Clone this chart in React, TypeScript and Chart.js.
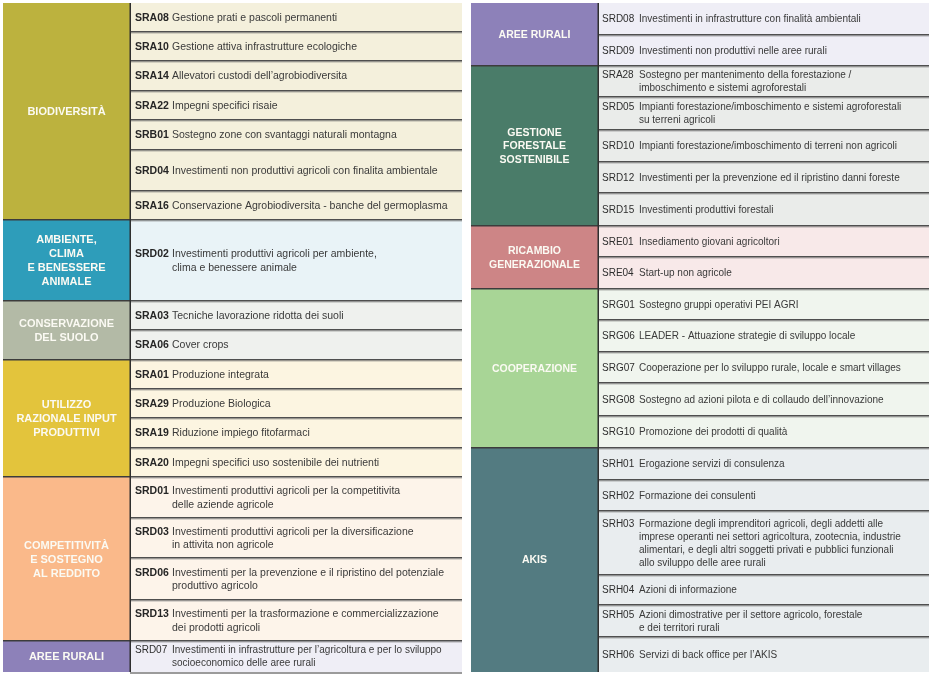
import React, { useEffect, useRef } from "react";
import { Chart, registerables } from "chart.js";

Chart.register(...registerables);

// ---------------- LEFT TABLE DATA ----------------
const leftGroupLabels: string[][] = [
  ["BIODIVERSITÀ"],
  ["AMBIENTE,", "CLIMA", "E BENESSERE", "ANIMALE"],
  ["CONSERVAZIONE", "DEL SUOLO"],
  ["UTILIZZO", "RAZIONALE INPUT", "PRODUTTIVI"],
  ["COMPETITIVITÀ", "E SOSTEGNO", "AL REDDITO"],
  ["AREE RURALI"],
];
const leftGroupSizes = [7, 1, 2, 4, 4, 1];
const leftCodes = [
  "SRA08", "SRA10", "SRA14", "SRA22", "SRB01", "SRD04", "SRA16",
  "SRD02",
  "SRA03", "SRA06",
  "SRA01", "SRA29", "SRA19", "SRA20",
  "SRD01", "SRD03", "SRD06", "SRD13",
  "SRD07",
];
const leftTexts: string[][] = [
  ["Gestione prati e pascoli permanenti"],
  ["Gestione attiva infrastrutture ecologiche"],
  ["Allevatori custodi dell’agrobiodiversita"],
  ["Impegni specifici risaie"],
  ["Sostegno zone con svantaggi naturali montagna"],
  ["Investimenti non produttivi agricoli con finalita ambientale"],
  ["Conservazione Agrobiodiversita - banche del germoplasma"],
  ["Investimenti produttivi agricoli per ambiente,", "clima e benessere animale"],
  ["Tecniche lavorazione ridotta dei suoli"],
  ["Cover crops"],
  ["Produzione integrata"],
  ["Produzione Biologica"],
  ["Riduzione impiego fitofarmaci"],
  ["Impegni specifici uso sostenibile dei nutrienti"],
  ["Investimenti produttivi agricoli per la competitivita", "delle aziende agricole"],
  ["Investimenti produttivi agricoli per la diversificazione", "in attivita non agricole"],
  ["Investimenti per la prevenzione e il ripristino del potenziale", "produttivo agricolo"],
  ["Investimenti per la trasformazione e commercializzazione", "dei prodotti agricoli"],
  ["Investimenti in infrastrutture per l’agricoltura e per lo sviluppo", "socioeconomico delle aree rurali"],
];
// row heights (units of the vertical scale)
const leftRowSpans = [29, 29, 30, 29, 30, 41, 29, 81, 29, 30, 29, 29, 30, 29, 41, 40, 42, 41, 31];
const leftCompactCodes = ["SRD07"];

// ---------------- RIGHT TABLE DATA ----------------
const rightGroupLabels: string[][] = [
  ["AREE RURALI"],
  ["GESTIONE", "FORESTALE", "SOSTENIBILE"],
  ["RICAMBIO", "GENERAZIONALE"],
  ["COOPERAZIONE"],
  ["AKIS"],
];
const rightGroupSizes = [2, 5, 2, 5, 6];
const rightCodes = [
  "SRD08", "SRD09",
  "SRA28", "SRD05", "SRD10", "SRD12", "SRD15",
  "SRE01", "SRE04",
  "SRG01", "SRG06", "SRG07", "SRG08", "SRG10",
  "SRH01", "SRH02", "SRH03", "SRH04", "SRH05", "SRH06",
];
const rightTexts: string[][] = [
  ["Investimenti in infrastrutture con finalità ambientali"],
  ["Investimenti non produttivi nelle aree rurali"],
  ["Sostegno per mantenimento della forestazione /", "imboschimento e sistemi agroforestali"],
  ["Impianti forestazione/imboschimento e sistemi agroforestali", "su terreni agricoli"],
  ["Impianti forestazione/imboschimento di terreni non agricoli"],
  ["Investimenti per la prevenzione ed il ripristino danni foreste"],
  ["Investimenti produttivi forestali"],
  ["Insediamento giovani agricoltori"],
  ["Start-up non agricole"],
  ["Sostegno gruppi operativi PEI AGRI"],
  ["LEADER - Attuazione strategie di sviluppo locale"],
  ["Cooperazione per lo sviluppo rurale, locale e smart villages"],
  ["Sostegno ad azioni pilota e di collaudo dell’innovazione"],
  ["Promozione dei prodotti di qualità"],
  ["Erogazione servizi di consulenza"],
  ["Formazione dei consulenti"],
  [
    "Formazione degli imprenditori agricoli, degli addetti alle",
    "imprese operanti nei settori agricoltura, zootecnia, industrie",
    "alimentari, e degli altri soggetti privati e pubblici funzionali",
    "allo sviluppo delle aree rurali",
  ],
  ["Azioni di informazione"],
  ["Azioni dimostrative per il settore agricolo, forestale", "e dei territori rurali"],
  ["Servizi di back office per l’AKIS"],
];
const rightRowSpans = [32, 31, 31, 33, 32, 31, 33, 31, 32, 31, 32, 31, 33, 32, 32, 31, 64, 30, 32, 35];

// ---------------- STYLES ----------------
const leftGroupColors = ["#bcb23e", "#2e9dba", "#b3baa6", "#e3c43c", "#fab98a", "#8d81b9"];
const leftGroupTints = ["#f4f0dc", "#e9f3f7", "#eff1ee", "#fcf5e1", "#fdf4ea", "#efeef6"];
const rightGroupColors = ["#8d81b9", "#4a7c69", "#cd8586", "#a8d596", "#537b81"];
const rightGroupTints = ["#efeef6", "#eaecea", "#f8e9e9", "#f0f5ee", "#e9edef"];

const FONT = "'Liberation Sans', Arial, Helvetica, sans-serif";

type TableDef = {
  groupLabels: string[][];
  groupSizes: number[];
  codes: string[];
  texts: string[][];
  spans: number[];
  groupColors: string[];
  groupTints: string[];
  compact: string[];
  x0: number; // category column start (scale units)
  x1: number; // item column start
  x2: number; // item column end
  codeX: number;
  catFont: string;
  catLineH: number;
  style: "left" | "right";
  bottomShadow: boolean;
};

const tables: TableDef[] = [
  {
    groupLabels: leftGroupLabels,
    groupSizes: leftGroupSizes,
    codes: leftCodes,
    texts: leftTexts,
    spans: leftRowSpans,
    groupColors: leftGroupColors,
    groupTints: leftGroupTints,
    compact: leftCompactCodes,
    x0: 0,
    x1: 127,
    x2: 459,
    codeX: 132,
    catFont: `bold 11px ${FONT}`,
    catLineH: 14,
    style: "left",
    bottomShadow: true,
  },
  {
    groupLabels: rightGroupLabels,
    groupSizes: rightGroupSizes,
    codes: rightCodes,
    texts: rightTexts,
    spans: rightRowSpans,
    groupColors: rightGroupColors,
    groupTints: rightGroupTints,
    compact: rightCodes,
    x0: 468,
    x1: 595,
    x2: 926,
    codeX: 599,
    catFont: `bold 10.5px ${FONT}`,
    catLineH: 13.5,
    style: "right",
    bottomShadow: false,
  },
];

const tablePlugin = {
  id: "tableCells",
  beforeDatasetsDraw(chart: any) {
    const ctx: CanvasRenderingContext2D = chart.ctx;
    const xs = chart.scales.x;
    const ys = chart.scales.y;
    const px = (v: number) => xs.getPixelForValue(v);
    const py = (v: number) => ys.getPixelForValue(v);

    ctx.save();
    for (const t of tables) {
      const X0 = px(t.x0), X1 = px(t.x1), X2 = px(t.x2);
      // rows
      let rowIdx = 0;
      let yCursor = 0;
      const groupRanges: [number, number][] = [];
      t.groupSizes.forEach((size, g) => {
        const gStart = yCursor;
        for (let k = 0; k < size; k++) {
          const span = t.spans[rowIdx];
          const yA = py(yCursor), yB = py(yCursor + span);
          ctx.fillStyle = t.groupTints[g];
          ctx.fillRect(X1, yA, X2 - X1, yB - yA);
          yCursor += span;
          rowIdx++;
        }
        groupRanges.push([gStart, yCursor]);
        const gA = py(gStart), gB = py(yCursor);
        ctx.fillStyle = t.groupColors[g];
        ctx.fillRect(X0, gA, X1 - X0, gB - gA);
      });

      // row separators
      yCursor = 0;
      for (let i = 0; i < t.spans.length; i++) {
        if (i > 0) {
          const y = Math.round(py(yCursor));
          ctx.fillStyle = "#4f4f4f";
          ctx.fillRect(X1, y - 1, X2 - X1, 1.5);
          ctx.fillStyle = "rgba(120,120,120,0.55)";
          ctx.fillRect(X1, y + 0.5, X2 - X1, 1);
        }
        yCursor += t.spans[i];
      }
      // group separators across category column
      groupRanges.forEach(([a], g) => {
        if (g === 0) return;
        const y = Math.round(py(a));
        ctx.fillStyle = "#3c3c3c";
        ctx.fillRect(X0, y - 1, X1 - X0, 1.5);
      });
      // vertical separator
      ctx.fillStyle = "#2f2f2f";
      ctx.fillRect(X1 - 0.5, py(0), 1.5, py(669) - py(0));
      if (t.bottomShadow) {
        ctx.fillStyle = "#9b9b9b";
        ctx.fillRect(X1, py(669), X2 - X1, 2);
      }

      // category labels
      ctx.textAlign = "center";
      ctx.textBaseline = "middle";
      ctx.font = t.catFont;
      ctx.fillStyle = "#fbfaf3";
      groupRanges.forEach(([a, b], g) => {
        const lines = t.groupLabels[g];
        const cy = (py(a) + py(b)) / 2 + 0.5;
        const cx = (X0 + X1) / 2;
        lines.forEach((ln, i) => {
          ctx.fillText(ln, cx, cy + (i - (lines.length - 1) / 2) * t.catLineH);
        });
      });

      // item texts
      ctx.textAlign = "left";
      yCursor = 0;
      for (let i = 0; i < t.codes.length; i++) {
        const code = t.codes[i];
        const lines = t.texts[i];
        const compact = t.compact.includes(code);
        const cy = (py(yCursor) + py(yCursor + t.spans[i])) / 2 + 0.5;
        const lh = compact ? 13 : 13.5;
        const codeFont = compact ? `10px ${FONT}` : `bold 10.5px ${FONT}`;
        const textFont = compact ? `10px ${FONT}` : `10.5px ${FONT}`;
        const cx = px(t.codeX);
        const dx = cx + 37;
        lines.forEach((ln, k) => {
          const y = cy + (k - (lines.length - 1) / 2) * lh;
          if (k === 0) {
            ctx.font = codeFont;
            ctx.fillStyle = compact ? "#2e2e2e" : "#262626";
            ctx.fillText(code, cx, y);
          }
          ctx.font = textFont;
          ctx.fillStyle = "#3a3a3a";
          ctx.fillText(ln, dx, y);
        });
        yCursor += t.spans[i];
      }
    }
    ctx.restore();
  },
};

export default function App() {
  const canvasRef = useRef<HTMLCanvasElement | null>(null);

  useEffect(() => {
    document.body.style.margin = "0";
    const canvas = canvasRef.current;
    if (!canvas) return;
    const chart = new Chart(canvas, {
      type: "scatter",
      data: { datasets: [{ data: [], pointRadius: 0 }] },
      options: {
        responsive: false,
        animation: false,
        devicePixelRatio: 1,
        layout: { padding: { left: 3, right: 5, top: 3, bottom: 3 } },
        plugins: { legend: { display: false }, tooltip: { enabled: false } },
        scales: {
          x: { type: "linear", min: 0, max: 926, display: false },
          y: { type: "linear", min: 0, max: 669, reverse: true, display: false },
        },
        events: [],
      },
      plugins: [tablePlugin],
    });
    return () => chart.destroy();
  }, []);

  return (
    <div style={{ position: "absolute", left: 0, top: 0, width: 934, height: 675, background: "#ffffff" }}>
      <canvas ref={canvasRef} width={934} height={675} style={{ display: "block" }} />
    </div>
  );
}
